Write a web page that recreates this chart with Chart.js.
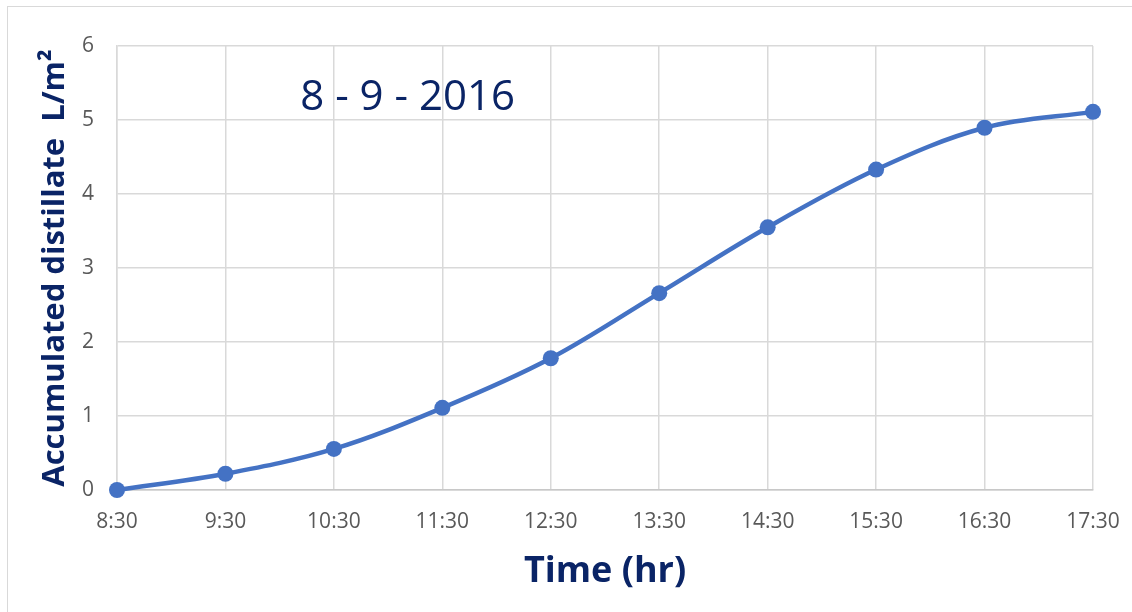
<!DOCTYPE html>
<html>
<head>
<meta charset="utf-8">
<script src="https://cdn.jsdelivr.net/npm/chart.js@4/dist/chart.umd.min.js"></script>
<style>
  html, body { margin: 0; padding: 0; background: #ffffff; }
  #wrap { position: relative; width: 1132px; height: 612px; overflow: hidden; }
  #frame { position: absolute; left: 7px; top: 6px; width: 1140px; height: 620px;
           border: 1.5px solid #d9d9d9; box-sizing: border-box; }
  #c { position: absolute; left: 0; top: 0; }
</style>
</head>
<body>
<div id="wrap">
  <div id="frame"></div>
  <canvas id="c" width="1132" height="612"></canvas>
</div>
<script>
// Accumulated distillate over the day
const times = ['8:30', '9:30', '10:30', '11:30', '12:30', '13:30', '14:30', '15:30', '16:30', '17:30'];
const distillate = [0, 0.22, 0.555, 1.11, 1.78, 2.66, 3.55, 4.33, 4.895, 5.11];
const yTicks = [0, 1, 2, 3, 4, 5, 6];
const dateLabel = '8 - 9 - 2016';

const navy = '#0a2466';
const gridColor = '#d9d9d9';
const tickColor = '#595959';
const fam = "'Open Sans', 'Liberation Sans', sans-serif";

// writes the date inside the plot area
const dateText = {
  id: 'dateText',
  afterDatasetsDraw(chart) {
    const { ctx, scales: { x, y } } = chart;
    ctx.save();
    ctx.font = `42px ${fam}`;
    ctx.fillStyle = navy;
    ctx.textAlign = 'center';
    ctx.textBaseline = 'middle';
    ctx.fillText(dateLabel, x.getPixelForValue(2.68), y.getPixelForValue(5.3));
    ctx.restore();
  }
};

new Chart(document.getElementById('c'), {
  type: 'line',
  data: {
    labels: times,
    datasets: [{
      data: distillate,
      borderColor: '#4472c4',
      backgroundColor: '#4472c4',
      borderWidth: 4.5,
      pointRadius: 8,
      pointHoverRadius: 8,
      pointBorderWidth: 0,
      tension: 0.35,
      fill: false,
      clip: false
    }]
  },
  options: {
    responsive: false,
    animation: false,
    events: [],
    layout: { padding: { left: 0, top: 46, right: 39, bottom: 0 } },
    plugins: { legend: { display: false }, tooltip: { enabled: false } },
    scales: {
      x: {
        offset: false,
        afterFit(s) { s.height = 122; s.paddingLeft = 0; s.paddingRight = 0; },
        grid: { color: gridColor, lineWidth: 1.5, drawTicks: false },
        border: { color: '#c8c8c8', width: 1.5 },
        ticks: { color: tickColor, font: { family: fam, size: 21 }, padding: 19, maxRotation: 0, autoSkip: false },
        title: {
          display: true, text: 'Time (hr)', color: navy,
          font: { family: fam, size: 36, weight: 'bold' },
          padding: { top: 0, bottom: 19 }
        }
      },
      y: {
        min: 0, max: 6,
        afterFit(s) { s.width = 117; s.paddingTop = 0; s.paddingBottom = 0; },
        afterBuildTicks(s) { s.ticks = yTicks.map(v => ({ value: v })); },
        grid: { color: gridColor, lineWidth: 1.5, drawTicks: false },
        border: { color: gridColor, width: 1.5 },
        ticks: { color: tickColor, font: { family: fam, size: 21 }, padding: 23 },
        title: {
          display: true, text: 'Accumulated distillate  L/m²', color: navy,
          font: { family: fam, size: 31, weight: 'bold' },
          padding: { top: 37, bottom: 0 }
        }
      }
    }
  },
  plugins: [dateText]
});
</script>
</body>
</html>
